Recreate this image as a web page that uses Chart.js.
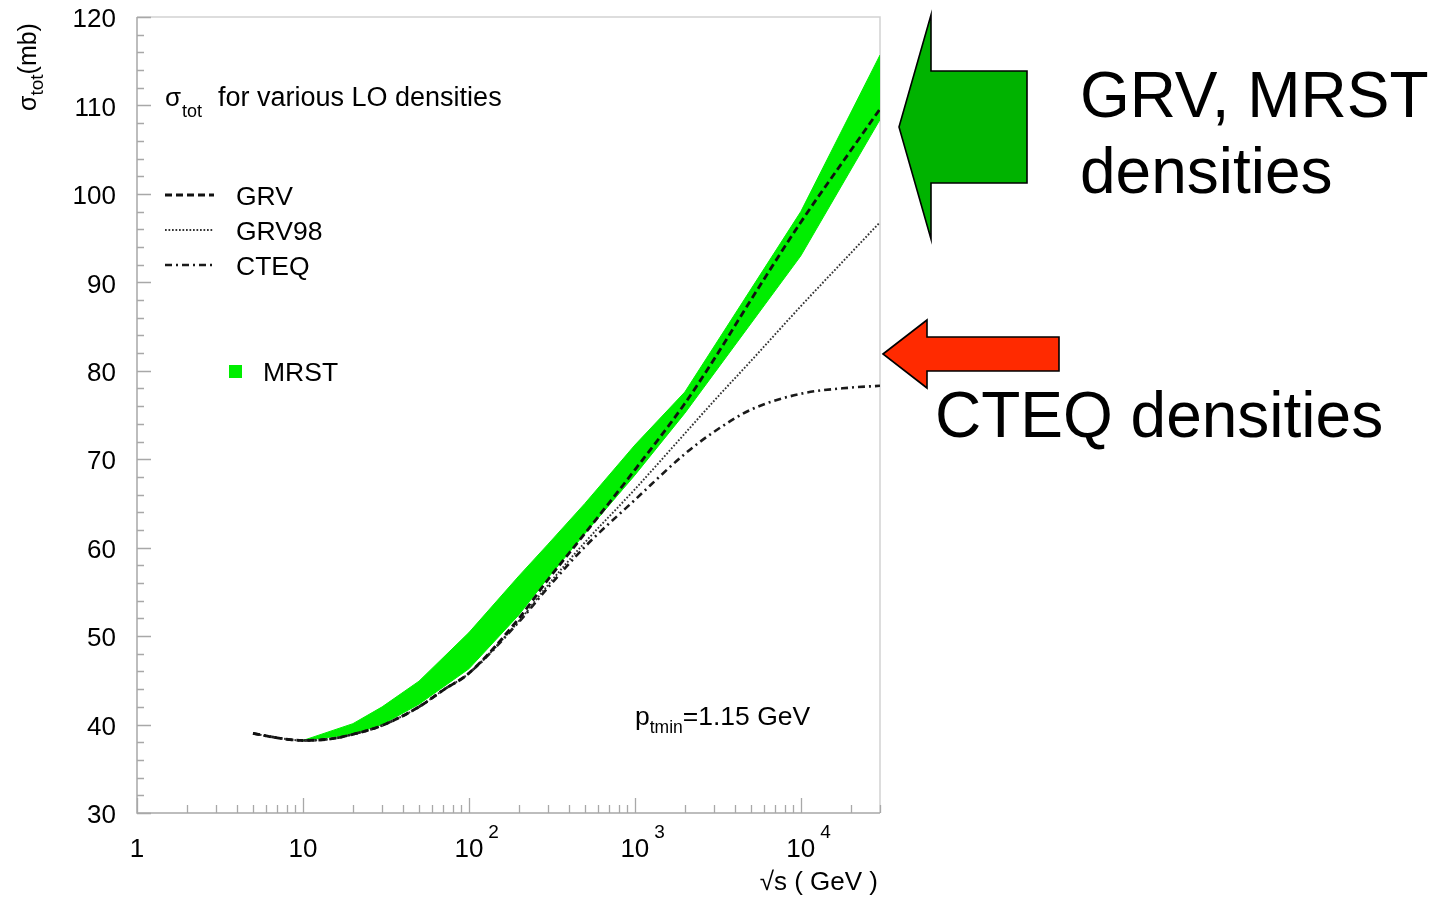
<!DOCTYPE html>
<html>
<head>
<meta charset="utf-8">
<script src="https://cdn.jsdelivr.net/npm/chart.js@4/dist/chart.umd.min.js"></script>
<style>
  html, body { margin: 0; padding: 0; background: #ffffff; }
  #wrap { width: 1456px; height: 899px; position: relative; }
</style>
</head>
<body>
<div id="wrap"><canvas id="c" width="1456" height="899"></canvas></div>
<script>
// sqrt(s) in GeV and total cross sections in mb
const energies   = [5, 7, 10, 15, 20, 30, 50, 70, 100, 200, 300, 500, 1000, 2000, 3000, 5000, 10000, 20000, 30000];
const sigmaGRV   = [39.0, 38.5, 38.2, 38.4, 38.9, 39.9, 42.0, 43.9, 45.8, 52.0, 56.4, 61.6, 68.8, 76.3, 81.3, 88.0, 96.8, 104.9, 109.6];
const sigmaGRV98 = [39.0, 38.5, 38.2, 38.4, 38.9, 39.9, 42.0, 43.9, 45.8, 51.7, 55.8, 60.6, 66.6, 72.9, 76.6, 81.1, 87.3, 93.3, 96.8];
const sigmaCTEQ  = [39.0, 38.5, 38.2, 38.4, 38.9, 39.9, 42.0, 43.9, 45.8, 51.6, 55.5, 60.1, 65.4, 70.6, 73.1, 75.6, 77.4, 78.1, 78.3];

// MRST band: upper and lower edge
const mrstEnergies = [10, 20, 30, 50, 100, 200, 300, 500, 1000, 2000, 10000, 30000];
const mrstUpper    = [38.2, 40.1, 42.0, 44.9, 50.4, 56.8, 60.4, 65.0, 71.6, 77.6, 98.0, 115.7];
const mrstLower    = [38.2, 38.9, 40.0, 42.3, 46.3, 52.4, 56.6, 61.6, 68.2, 75.2, 93.0, 108.4];

// axis ticks
const yTicks        = [30, 40, 50, 60, 70, 80, 90, 100, 110, 120];
const xMajorTicks   = [1, 10, 100, 1000, 10000];
const xTickBase     = ['1', '10', '10', '10', '10'];
const xTickExponent = ['', '', '2', '3', '4'];

const FONT = '"Liberation Sans", Arial, Helvetica, sans-serif';
const pts = (xs, ys) => xs.map((x, i) => ({ x: x, y: ys[i] }));

function font(size) { return size + 'px ' + FONT; }

// text made of parts, some of them lowered: [[text, size, dy], ...]
function drawRich(ctx, x, y, parts) {
  let cx = x;
  ctx.textAlign = 'left';
  ctx.textBaseline = 'alphabetic';
  for (const [t, size, dy] of parts) {
    ctx.font = font(size);
    ctx.fillText(t, cx, y + dy);
    cx += ctx.measureText(t).width;
  }
}

function polygon(ctx, p, fill) {
  ctx.beginPath();
  ctx.moveTo(p[0][0], p[0][1]);
  for (let i = 1; i < p.length; i++) ctx.lineTo(p[i][0], p[i][1]);
  ctx.closePath();
  ctx.fillStyle = fill;
  ctx.fill();
  ctx.lineWidth = 1.6;
  ctx.strokeStyle = '#000';
  ctx.lineJoin = 'miter';
  ctx.stroke();
}

const decor = {
  id: 'decor',
  beforeDatasetsDraw(chart) {
    const { ctx, chartArea: a } = chart;
    ctx.save();
    ctx.lineWidth = 1.5;
    ctx.strokeStyle = '#d2d2d2';
    ctx.beginPath();
    ctx.moveTo(a.left, a.top); ctx.lineTo(a.right, a.top); ctx.lineTo(a.right, a.bottom);
    ctx.stroke();
    ctx.strokeStyle = '#a8a8a8';
    ctx.beginPath();
    ctx.moveTo(a.left, a.top); ctx.lineTo(a.left, a.bottom); ctx.lineTo(a.right, a.bottom);
    ctx.stroke();
    ctx.restore();
  },
  afterDraw(chart) {
    const { ctx, chartArea: a, scales: { x, y } } = chart;
    ctx.save();

    // inward tick marks
    ctx.strokeStyle = '#a8a8a8';
    ctx.lineWidth = 1.3;
    ctx.beginPath();
    for (let v = 30; v <= 120; v += 2) {
      const py = Math.round(y.getPixelForValue(v)) + 0.5;
      const len = (v % 10 === 0) ? 14 : 7;
      ctx.moveTo(a.left, py); ctx.lineTo(a.left + len, py);
    }
    for (let e = 0; e <= 4; e++) {
      for (let k = 1; k <= 9; k++) {
        const v = k * Math.pow(10, e);
        if (v > 30000) break;
        const px = Math.round(x.getPixelForValue(v)) + 0.5;
        const len = (k === 1) ? 15 : 8;
        ctx.moveTo(px, a.bottom); ctx.lineTo(px, a.bottom - len);
      }
    }
    ctx.stroke();

    // x tick labels with exponents
    ctx.fillStyle = '#000';
    xMajorTicks.forEach((v, i) => {
      const px = x.getPixelForValue(v);
      ctx.font = font(26);
      ctx.textAlign = 'center';
      ctx.textBaseline = 'alphabetic';
      ctx.fillText(xTickBase[i], px, 857);
      if (xTickExponent[i]) {
        const w = ctx.measureText(xTickBase[i]).width;
        ctx.font = font(19);
        ctx.textAlign = 'left';
        ctx.fillText(xTickExponent[i], px + w / 2 + 5, 838);
      }
    });

    // axis titles
    ctx.font = font(26);
    ctx.textAlign = 'right';
    ctx.fillText('\u221As ( GeV )', 878, 890);

    ctx.save();
    ctx.translate(36, 111);
    ctx.rotate(-Math.PI / 2);
    drawRich(ctx, 0, 0, [['\u03C3', 25, 0], ['tot', 19, 7], ['(mb)', 25, 0]]);
    ctx.restore();

    // legend
    drawRich(ctx, 165, 106, [['\u03C3', 26, 0]]);
    drawRich(ctx, 182, 117, [['tot', 18, 0]]);
    drawRich(ctx, 218, 106, [['for various LO densities', 27, 0]]);

    const rows = [[0, 195], [1, 230], [2, 265]];
    rows.forEach(([di, ly]) => {
      const ds = chart.data.datasets[di];
      ctx.save();
      ctx.strokeStyle = ds.borderColor;
      ctx.lineWidth = ds.borderWidth;
      ctx.setLineDash(ds.borderDash || []);
      ctx.beginPath();
      ctx.moveTo(165, ly); ctx.lineTo(214, ly);
      ctx.stroke();
      ctx.restore();
      ctx.fillStyle = '#000';
      drawRich(ctx, 236, ly + 9.5, [[ds.label, 26.5, 0]]);
    });
    const band = chart.data.datasets[3];
    ctx.fillStyle = band.backgroundColor;
    ctx.fillRect(229, 365, 13, 13);
    ctx.fillStyle = '#000';
    drawRich(ctx, 263, 380.5, [[band.label, 26.5, 0]]);

    // cut-off note
    drawRich(ctx, 635, 725, [['p', 26.5, 0], ['tmin', 17.5, 8], ['=1.15 GeV', 26.5, 0]]);

    // arrows and side notes
    polygon(ctx, [[899, 127], [931, 15], [931, 71], [1027, 71], [1027, 183], [931, 183], [931, 239]], '#00b300');
    polygon(ctx, [[883, 354], [927, 320], [927, 337], [1059, 337], [1059, 371], [927, 371], [927, 388]], '#ff2a00');
    ctx.fillStyle = '#000';
    ctx.font = font(64);
    ctx.textAlign = 'left';
    ctx.textBaseline = 'alphabetic';
    ctx.fillText('GRV, MRST', 1080, 117);
    ctx.fillText('densities', 1080, 193);
    ctx.fillText('CTEQ densities', 935, 437);

    ctx.restore();
  }
};

new Chart(document.getElementById('c'), {
  type: 'scatter',
  data: {
    datasets: [
      {
        label: 'GRV', data: pts(energies, sigmaGRV), showLine: true, pointRadius: 0,
        borderColor: '#111', borderWidth: 2.8, borderDash: [7, 4], fill: false,
        cubicInterpolationMode: 'monotone', order: 0
      },
      {
        label: 'GRV98', data: pts(energies, sigmaGRV98), showLine: true, pointRadius: 0,
        borderColor: '#333', borderWidth: 1.9, borderDash: [1.7, 1.8], fill: false,
        cubicInterpolationMode: 'monotone', order: 1
      },
      {
        label: 'CTEQ', data: pts(energies, sigmaCTEQ), showLine: true, pointRadius: 0,
        borderColor: '#1a1a1a', borderWidth: 2.6, borderDash: [7, 4, 2, 4], fill: false,
        cubicInterpolationMode: 'monotone', order: 2
      },
      {
        label: 'MRST', data: pts(mrstEnergies, mrstUpper), showLine: true, pointRadius: 0,
        borderColor: '#00ee00', borderWidth: 1, backgroundColor: '#00ee00',
        fill: '+1', tension: 0, order: 10
      },
      {
        label: 'MRST lower', data: pts(mrstEnergies, mrstLower), showLine: true, pointRadius: 0,
        borderColor: '#00ee00', borderWidth: 1, backgroundColor: '#00ee00',
        fill: false, tension: 0, order: 11
      }
    ]
  },
  options: {
    responsive: false,
    animation: false,
    devicePixelRatio: 1,
    layout: { padding: { left: 0, top: 17, right: 576, bottom: 0 } },
    plugins: { legend: { display: false }, tooltip: { enabled: false } },
    scales: {
      x: {
        type: 'logarithmic', min: 1, max: 30000,
        grid: { display: false, drawTicks: false },
        border: { display: false },
        ticks: { display: false },
        afterBuildTicks(s) { s.ticks = xMajorTicks.map(v => ({ value: v })); },
        afterFit(s) { s.height = 86; s.paddingLeft = 0; s.paddingRight = 0; }
      },
      y: {
        type: 'linear', min: 30, max: 120,
        grid: { display: false, drawTicks: false },
        border: { display: false },
        ticks: { color: '#000', padding: 21, labelOffset: 3, font: { family: FONT, size: 26 } },
        afterBuildTicks(s) { s.ticks = yTicks.map(v => ({ value: v })); },
        afterFit(s) { s.width = 137; s.paddingTop = 0; s.paddingBottom = 0; }
      }
    }
  },
  plugins: [decor]
});
</script>
</body>
</html>
